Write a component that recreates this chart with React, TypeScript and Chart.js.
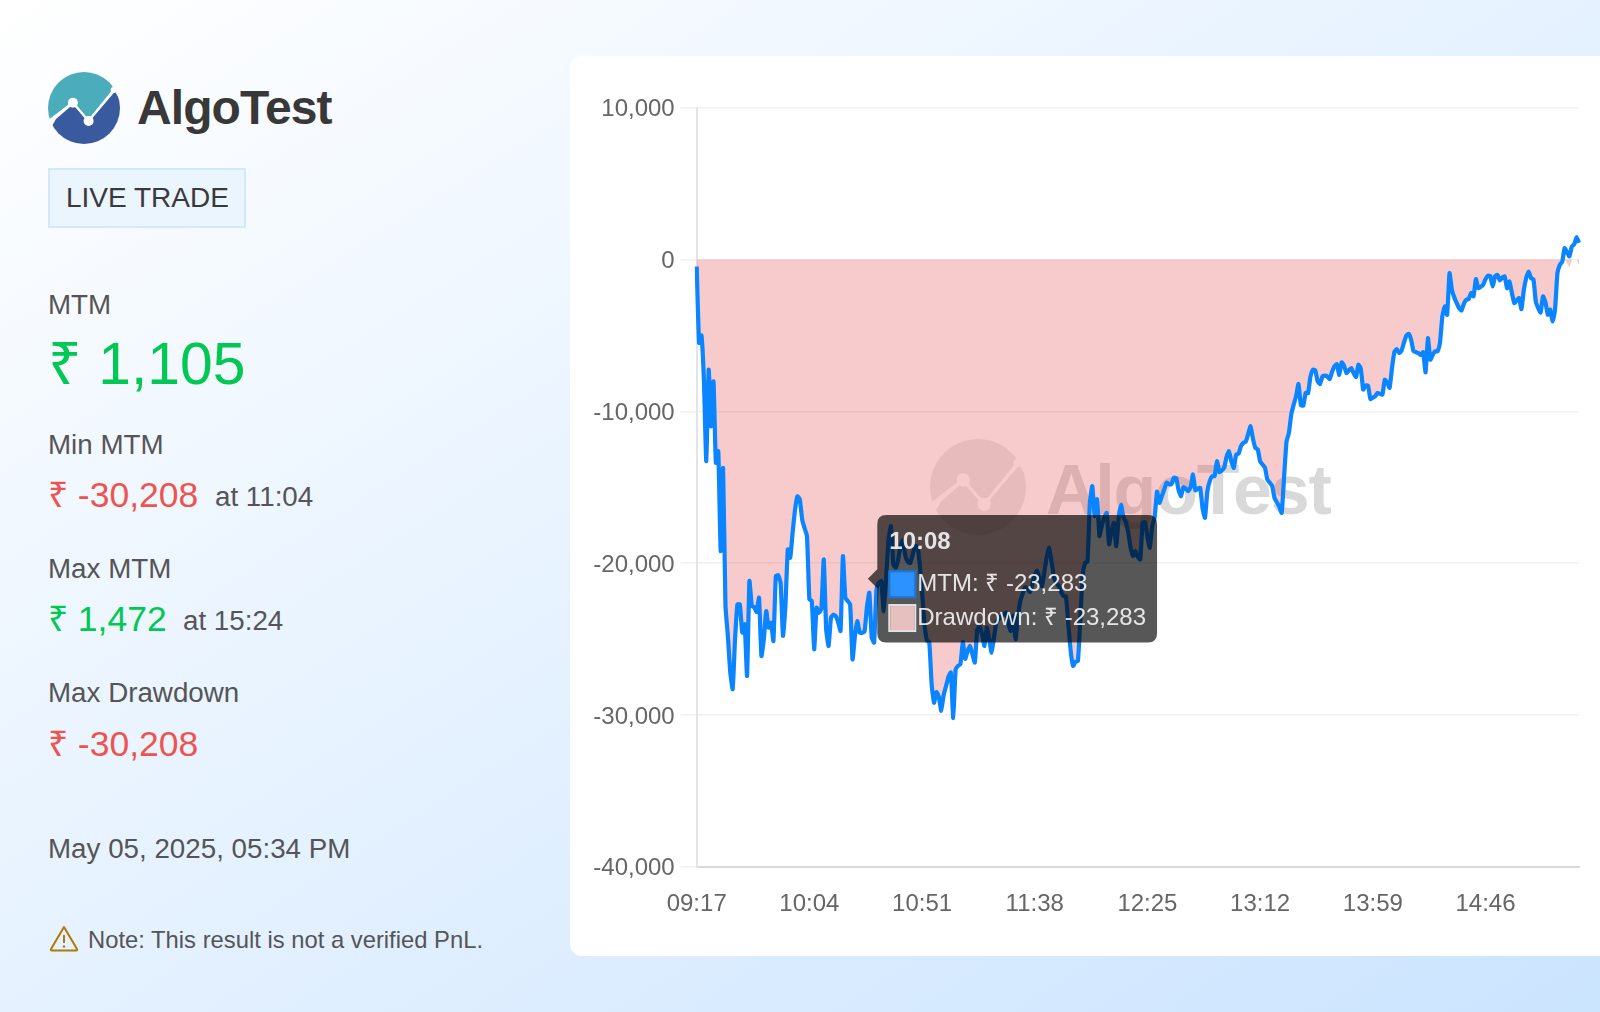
import { useEffect, useRef } from "react";
import { Chart, Tooltip, registerables } from "chart.js";

Chart.register(...registerables);

const FONT = '"Liberation Sans", Arial, sans-serif';

// one label per minute of the session, 09:17 to 15:25
const startMinute = 9 * 60 + 17;
const times: string[] = Array.from({ length: 369 }, (_, i) => {
  const m = startMinute + i;
  return String(Math.floor(m / 60)).padStart(2, "0") + ":" + String(m % 60).padStart(2, "0");
});

const yTicks = [10000, 0, -10000, -20000, -30000, -40000];
const xTickEvery = 47;

const mtm: number[] = [
  -460, -5500, -5000, -7920, -13290, -7260, -10990, -8030, -13400, -12630,
  -19210, -13730, -22830, -24800, -27200, -28300, -24990, -22720, -22720, -24580,
  -24030, -27430, -21180, -22830, -22900, -23220, -22280, -26120, -25020, -23160,
  -24250, -23930, -25130, -20860, -20800, -21300, -24800, -22830, -19100, -19650,
  -18000, -16500, -15600, -15810, -17130, -17700, -18220, -22390, -22500, -25680,
  -22940, -23283, -23000, -19760, -24360, -25460, -23600, -23400, -23490, -23900,
  -24470, -19540, -22280, -22500, -22720, -26340, -24800, -23820, -24580, -24600,
  -24500, -22900, -21950, -24910, -25240, -21730, -21300, -21180, -23160, -21000,
  -18500, -17570, -20090, -20300, -19800, -18900, -18500, -19500, -19900, -20000,
  -19500, -18900, -18900, -20000, -21900, -24000, -25100, -25200, -28000, -29200,
  -28500, -28800, -29730, -28700, -28100, -27500, -27200, -30208, -27000, -26770,
  -26660, -25200, -26300, -25800, -25460, -26000, -26550, -24400, -24140, -24700,
  -25460, -24250, -25000, -25900, -24900, -23900, -23700, -23500, -23400, -23260,
  -24000, -24470, -23480, -25020, -23500, -22500, -22000, -21600, -21700, -21900,
  -21400, -20800, -20500, -21000, -21510, -20600, -19600, -18990, -19900, -20900,
  -21300, -21510, -21900, -22170, -22200, -24000, -25800, -26770, -26500, -26450,
  -23700, -20800, -19980, -19900, -16000, -14930, -16900, -15800, -18220, -17500,
  -17000, -16700, -18770, -17900, -17340, -18880, -17000, -16140, -17000, -17300,
  -18000, -19000, -19540, -19200, -19600, -19760, -17340, -17300, -18300, -18990,
  -17560, -17000, -15300, -16030, -15600, -15150, -14700, -14800, -14800, -14380,
  -14400, -15200, -15590, -15000, -15100, -15260, -15000, -14160, -15200, -15100,
  -15040, -16400, -17020, -15260, -14600, -14270, -14270, -13290, -14000, -13900,
  -13730, -13000, -12630, -13300, -13730, -12850, -12800, -12300, -12080, -12000,
  -11500, -10990, -11800, -12410, -12500, -13300, -13500, -13700, -14490, -14700,
  -14900, -15700, -16000, -16300, -16690, -14300, -12000, -11430, -10200, -9560,
  -9000, -8200, -9600, -9630, -8790, -8800, -7700, -7260, -7300, -8030,
  -8200, -7700, -7650, -7700, -7870, -7400, -7040, -6900, -7600, -6780,
  -7000, -7480, -7300, -7150, -7500, -7740, -6930, -7200, -8570, -8300,
  -8310, -9190, -9100, -9010, -8790, -8850, -8900, -7920, -8100, -8460,
  -7150, -6100, -5900, -6160, -6000, -5460, -5000, -4890, -5300, -6050,
  -6100, -6160, -6300, -6100, -7430, -5180, -6600, -6270, -6050, -6050,
  -5500, -3750, -3090, -3640, -900, -2000, -2500, -2870, -3200, -3360,
  -2900, -2650, -2600, -2200, -2430, -1290, -1890, -1800, -1670, -1300,
  -1070, -1100, -1780, -1100, -1010, -1380, -1200, -1120, -1890, -1450,
  -2200, -2870, -2700, -2540, -3270, -2000, -1200, -790, -1230, -1300,
  -2800, -3200, -3490, -2430, -2800, -3640, -3300, -4080, -3310, -900,
  -350, -150, 745, 500, 200, 855, 1000, 1472, 1105,
];

// drawdown is the mtm itself until the curve first gets above zero at 15:19
const drawdownTail = [0, -245, -545, 0, 0, 0, -367];
const drawdown: number[] = [...mtm.slice(0, 362), ...drawdownTail];

const hoveredTime = "10:08";
// the tooltip's caret sits here in the picture, away from the hovered point
const caretIndex = 71.4;
const caretValue = -21030;

const fmt = (v: number) => v.toLocaleString("en-US");

(Tooltip.positioners as any).pinned = function () {
  const { x, y } = this.chart.scales;
  return { x: x.getPixelForValue(caretIndex), y: y.getPixelForValue(caretValue) };
};

function Logo({ size, teal, blue, line }: { size: number; teal: string; blue: string; line: string }) {
  return (
    <svg width={size} height={size} viewBox="0 0 72 72" style={{ display: "block" }}>
      <defs>
        <clipPath id={"disc" + size}>
          <circle cx="36" cy="36" r="36" />
        </clipPath>
      </defs>
      <g clipPath={`url(#disc${size})`}>
        <polygon points="0,0 64,0 64,13 65.6,17 40.6,47.5 24.9,29.2 5.6,44 0,48" fill={teal} />
        <polygon points="4,54 8,47 24.9,32.5 40.6,50.5 67,19.5 72,28 72,72 0,72" fill={blue} />
        <polyline points="5.6,45.5 24.9,30.7 40.6,49 65.6,18" fill="none" stroke={line} strokeWidth="2" />
        <circle cx="24.9" cy="30.7" r="5" fill={line} />
        <circle cx="40.6" cy="49" r="5" fill={line} />
        <circle cx="65.6" cy="18" r="3" fill={line} />
      </g>
    </svg>
  );
}

// absolutely placed text, top worked out from the baseline
function Text({ x, base, size, color, bold, spacing, children }: any) {
  return (
    <div
      style={{
        position: "absolute",
        left: x,
        top: base - size * 0.8465,
        fontSize: size,
        lineHeight: 1,
        color,
        fontWeight: bold ? 700 : 400,
        letterSpacing: spacing,
        whiteSpace: "nowrap",
      }}
    >
      {children}
    </div>
  );
}

const GREEN = "#00c853";
const RED = "#ef5350";
const GREY = "#555555";

export default function App() {
  const canvasRef = useRef<HTMLCanvasElement | null>(null);

  useEffect(() => {
    if (!canvasRef.current) return;
    const chart = new Chart(canvasRef.current, {
      type: "line",
      data: {
        labels: times,
        datasets: [
          {
            label: "MTM",
            data: mtm,
            borderColor: "#0a84ff",
            backgroundColor: "#0a84ff",
            borderWidth: 4.2,
            tension: 0.15,
            pointRadius: 0,
            pointHoverRadius: 0,
            borderJoinStyle: "round",
            fill: false,
          },
          {
            label: "Drawdown",
            data: drawdown,
            borderColor: "rgba(0,0,0,0)",
            backgroundColor: "rgba(228,82,82,0.3)",
            borderWidth: 0,
            pointRadius: 0,
            pointHoverRadius: 0,
            fill: "origin",
          },
        ],
      },
      options: {
        animation: false,
        responsive: false,
        events: [],
        layout: { padding: { top: 51.7, right: 21, bottom: 0, left: 0 } },
        font: { family: FONT },
        scales: {
          x: {
            type: "category",
            grid: { display: false, drawTicks: false },
            border: { color: "#d9d9d9", width: 2 },
            afterFit: (axis: any) => {
              axis.height = 89.3;
            },
            ticks: {
              autoSkip: false,
              maxRotation: 0,
              minRotation: 0,
              padding: 23,
              color: "#666666",
              font: { family: FONT, size: 24 },
              callback: (_v: any, i: number) => (i % xTickEvery === 0 ? times[i] : null),
            },
          },
          y: {
            min: yTicks[yTicks.length - 1],
            max: yTicks[0],
            afterBuildTicks: (axis: any) => {
              axis.ticks = yTicks.map((value) => ({ value }));
            },
            afterFit: (axis: any) => {
              axis.width = 126.7;
            },
            grid: { color: "#f0f0f0", lineWidth: 1.6, tickLength: 16 },
            border: { color: "#e4e4e4", width: 2 },
            ticks: {
              padding: 6,
              labelOffset: 2,
              color: "#666666",
              font: { family: FONT, size: 24 },
              callback: (v: any) => fmt(Number(v)),
            },
          },
        },
        plugins: {
          legend: { display: false },
          title: { display: false },
          tooltip: {
            position: "pinned" as any,
            xAlign: "left",
            yAlign: "center",
            caretSize: 9.4,
            caretPadding: 0,
            cornerRadius: 9,
            padding: { top: 13, bottom: 10, left: 12, right: 11 },
            backgroundColor: "rgba(0,0,0,0.66)",
            titleColor: "rgba(255,255,255,0.85)",
            bodyColor: "rgba(255,255,255,0.85)",
            titleFont: { family: FONT, size: 24, weight: "bold" },
            bodyFont: { family: FONT, size: 24 },
            titleMarginBottom: 13,
            bodySpacing: 5,
            boxWidth: 26,
            boxHeight: 26,
            multiKeyBackground: "rgba(0,0,0,0)",
            callbacks: {
              title: () => hoveredTime,
              label: (c: any) => `${c.dataset.label}: ₹ ${fmt(c.parsed.y)}`,
              labelColor: (c: any) =>
                c.datasetIndex === 0
                  ? { borderColor: "#1478dc", backgroundColor: "#2b92ff", borderWidth: 2 }
                  : { borderColor: "#e2e2e2", backgroundColor: "#e6bfbf", borderWidth: 2 },
            },
          },
        },
      },
    });

    const hovered = times.indexOf(hoveredTime);
    chart.tooltip?.setActiveElements(
      [
        { datasetIndex: 0, index: hovered },
        { datasetIndex: 1, index: hovered },
      ],
      { x: 0, y: 0 }
    );
    chart.update();

    return () => {
      chart.destroy();
    };
  }, []);

  return (
    <div
      style={{
        position: "relative",
        width: 1600,
        height: 1012,
        overflow: "hidden",
        fontFamily: FONT,
        background: "linear-gradient(to bottom right, #ffffff, #cbe4ff)",
      }}
    >
      <style>{"body{margin:0}"}</style>

      <div style={{ position: "absolute", left: 48, top: 72 }}>
        <Logo size={72} teal="#4bacbb" blue="#3a5a9f" line="#ffffff" />
      </div>
      <Text x={137} base={125} size={48} color="#383838" bold spacing={-0.9}>
        AlgoTest
      </Text>

      <div
        style={{
          position: "absolute",
          left: 48,
          top: 168,
          width: 198,
          height: 60,
          boxSizing: "border-box",
          border: "2px solid #d2e8fb",
          background: "#ebf5fe",
        }}
      />
      <Text x={66} base={207.7} size={28} color="#3a3a3a">
        LIVE TRADE
      </Text>

      <Text x={48} base={314} size={27.75} color={GREY}>MTM</Text>
      <Text x={48} base={385} size={58.8} color={GREEN}>₹ 1,105</Text>

      <Text x={48} base={454} size={27.75} color={GREY}>Min MTM</Text>
      <Text x={48} base={508.5} size={35.5} color={RED}>₹ -30,208</Text>
      <Text x={215} base={506} size={27.75} color={GREY}>at 11:04</Text>

      <Text x={48} base={578} size={27.75} color={GREY}>Max MTM</Text>
      <Text x={48} base={632} size={35.5} color={GREEN}>₹ 1,472</Text>
      <Text x={183} base={630} size={27.75} color={GREY}>at 15:24</Text>

      <Text x={48} base={702.5} size={27.75} color={GREY}>Max Drawdown</Text>
      <Text x={48} base={757} size={35.5} color={RED}>₹ -30,208</Text>

      <Text x={48} base={858.5} size={27.75} color={GREY}>May 05, 2025, 05:34 PM</Text>

      <svg width="30" height="27" viewBox="0 0 30 27" style={{ position: "absolute", left: 49, top: 925 }}>
        <path
          d="M15 2 L28 24 Q28.5 25.5 27 25.5 L3 25.5 Q1.5 25.5 2 24 Z"
          fill="none"
          stroke="#b07a00"
          strokeWidth="2"
          strokeLinejoin="round"
        />
        <line x1="15" y1="10" x2="15" y2="18" stroke="#b07a00" strokeWidth="2" />
        <circle cx="15" cy="21.5" r="1.2" fill="#b07a00" />
      </svg>
      <Text x={88} base={948} size={23.8} color={GREY}>
        Note: This result is not a verified PnL.
      </Text>

      <div
        style={{
          position: "absolute",
          left: 570,
          top: 56,
          width: 1040,
          height: 900,
          background: "#ffffff",
          borderRadius: 12,
        }}
      />
      <div style={{ position: "absolute", left: 930, top: 439, opacity: 0.12 }}>
        <Logo size={96} teal="#555555" blue="#555555" line="#ffffff" />
      </div>
      <Text x={1046} base={514} size={70} color="#d9d9d9" bold spacing={-1.2}>
        AlgoTest
      </Text>

      <canvas
        ref={canvasRef}
        width={1030}
        height={900}
        style={{ position: "absolute", left: 570, top: 56, width: 1030, height: 900 }}
      />
    </div>
  );
}
